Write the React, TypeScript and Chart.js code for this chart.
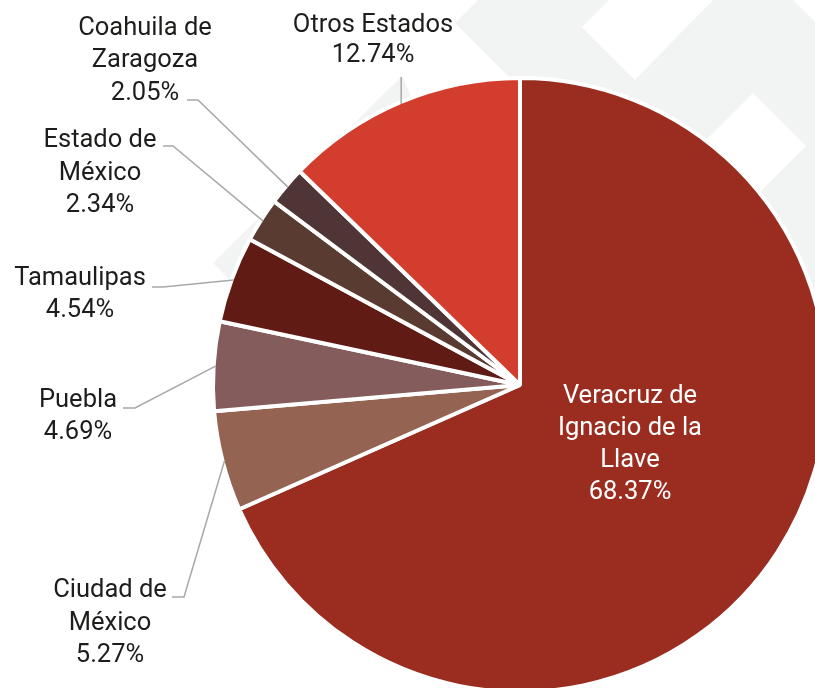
import React, { useEffect, useRef } from "react";
import { Chart, registerables } from "chart.js";

Chart.register(...registerables);

// ---- data ----
const categories = [
  "Veracruz de Ignacio de la Llave",
  "Ciudad de México",
  "Puebla",
  "Tamaulipas",
  "Estado de México",
  "Coahuila de Zaragoza",
  "Otros Estados",
];
const shares = [68.37, 5.27, 4.69, 4.54, 2.34, 2.05, 12.74];
const shareLabels = ["68.37%", "5.27%", "4.69%", "4.54%", "2.34%", "2.05%", "12.74%"];
const labelLines = [
  ["Veracruz de", "Ignacio de la", "Llave"],
  ["Ciudad de", "México"],
  ["Puebla"],
  ["Tamaulipas"],
  ["Estado de", "México"],
  ["Coahuila de", "Zaragoza"],
  ["Otros Estados"],
];
const sliceColors = ["#9B2D20", "#946352", "#845C5C", "#5F1B14", "#5A3B32", "#4F3536", "#D33D2D"];

// ---- layout (label placement, not data) ----
const TEXT_COLOR = "#1d1d1b";
const LEADER_COLOR = "#a8a8a8";
const labelLayout: { x: number; y: number; gap: number; color: string; leader: (number | null)[][] | null }[] = [
  { x: 630, y: 403, gap: 32, color: "#ffffff", leader: null },
  { x: 110, y: 597, gap: 32.5, color: TEXT_COLOR, leader: [[184, 597], [172, 597]] },
  { x: 78, y: 407, gap: 32, color: TEXT_COLOR, leader: [[135, 408], [123, 408]] },
  { x: 80, y: 285, gap: 32, color: TEXT_COLOR, leader: [[163, 287], [152, 287]] },
  { x: 100, y: 147, gap: 32.5, color: TEXT_COLOR, leader: [[173, 146], [163, 146]] },
  { x: 145, y: 34.5, gap: 32.75, color: TEXT_COLOR, leader: [[198, 100], [187, 100]] },
  { x: 373, y: 32, gap: 30, color: TEXT_COLOR, leader: [[null, 77]] },
];

const watermarkPlugin = {
  id: "watermark",
  beforeDraw(chart: any) {
    const ctx = chart.ctx;
    ctx.save();
    const poly = (pts: number[][], fill: string) => {
      ctx.beginPath();
      pts.forEach((p, i) => (i ? ctx.lineTo(p[0], p[1]) : ctx.moveTo(p[0], p[1])));
      ctx.closePath();
      ctx.fillStyle = fill;
      ctx.fill();
    };
    const g = "#f2f3f3";
    poly([[455, 23], [478, 0], [793, 0], [815, 22], [815, 330], [700, 330], [600, 168]], g);
    poly([[213, 263], [402, 76], [440, 160], [300, 350]], g);
    poly([[582, 27], [609, 0], [713, 0], [635, 80]], "#ffffff");
    poly([[753, 93], [806, 146], [753, 199], [700, 146]], "#ffffff");
    ctx.restore();
  },
};

const labelPlugin = {
  id: "sliceLabels",
  afterDatasetsDraw(chart: any) {
    const ctx = chart.ctx;
    const meta = chart.getDatasetMeta(0);
    ctx.save();
    ctx.font = "400 25.5px Roboto, 'Noto Sans', sans-serif";
    ctx.textAlign = "center";
    ctx.textBaseline = "alphabetic";
    meta.data.forEach((arc: any, i: number) => {
      const lay = labelLayout[i];
      const p = arc.getProps(["x", "y", "startAngle", "endAngle", "outerRadius"], true);
      const mid = (p.startAngle + p.endAngle) / 2;
      const r = p.outerRadius - 2;
      const ax = p.x + Math.cos(mid) * r;
      const ay = p.y + Math.sin(mid) * r;
      if (lay.leader) {
        ctx.beginPath();
        ctx.moveTo(ax, ay);
        lay.leader.forEach((pt) => ctx.lineTo(pt[0] === null ? ax : pt[0], pt[1] as number));
        ctx.strokeStyle = LEADER_COLOR;
        ctx.lineWidth = 1.5;
        ctx.stroke();
      }
      const lines = [...labelLines[i], shareLabels[i]];
      ctx.fillStyle = lay.color;
      lines.forEach((t, k) => ctx.fillText(t, lay.x, lay.y + k * lay.gap));
    });
    ctx.restore();
  },
};

export default function App() {
  const ref = useRef<HTMLCanvasElement | null>(null);
  useEffect(() => {
    if (!ref.current) return;
    const chart = new Chart(ref.current, {
      type: "pie",
      data: {
        labels: categories,
        datasets: [
          {
            data: shares,
            backgroundColor: sliceColors,
            borderColor: "#ffffff",
            borderWidth: 4,
            clip: false as any,
          },
        ],
      },
      options: {
        animation: false,
        responsive: false,
        radius: 307,
        layout: { padding: { left: 225, right: 0, top: 82, bottom: 0 } },
        plugins: {
          legend: { display: false },
          tooltip: { enabled: false },
        },
      } as any,
      plugins: [watermarkPlugin, labelPlugin],
    });
    return () => chart.destroy();
  }, []);
  return (
    <div style={{ position: "fixed", left: 0, top: 0, width: 815, height: 688, overflow: "hidden", background: "#ffffff" }}>
      <canvas ref={ref} width={815} height={688} style={{ width: 815, height: 688, display: "block" }} />
    </div>
  );
}
